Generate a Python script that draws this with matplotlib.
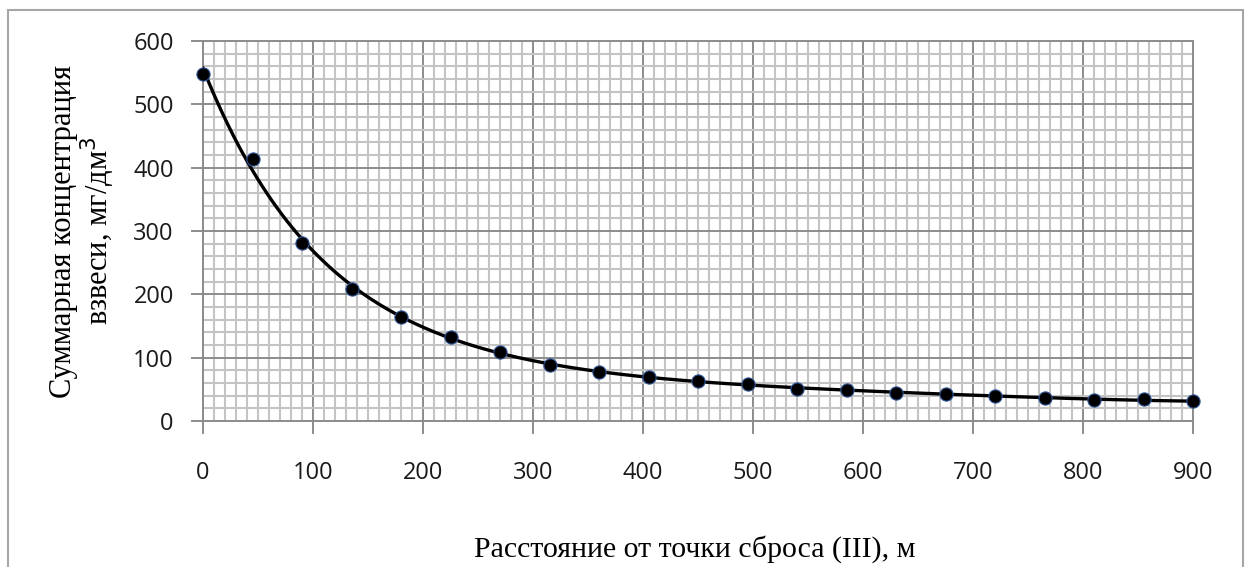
import numpy as np
import matplotlib.pyplot as plt
from matplotlib.patches import Rectangle
from matplotlib.ticker import MultipleLocator

# distance from discharge point, m
distance = [0, 45, 90, 135, 180, 225, 270, 315, 360, 405, 450,
            495, 540, 585, 630, 675, 720, 765, 810, 855, 900]
# total suspended matter concentration, mg/dm3
concentration = [548, 414, 281, 209, 165, 133, 109, 89, 77, 69, 63,
                 58, 51, 49, 45, 43, 40, 37, 33, 34, 31]

x_ticks = [0, 100, 200, 300, 400, 500, 600, 700, 800, 900]
y_ticks = [0, 100, 200, 300, 400, 500, 600]

fig = plt.figure(figsize=(12.45, 5.67), dpi=100)
ax = fig.add_axes([203 / 1245, 1 - 421 / 567, 990 / 1245, 380 / 567])

# outer chart frame
fig.patches.append(Rectangle((8 / 1245, -0.05), 1235 / 1245, 1 - 10 / 567 + 0.05,
                             transform=fig.transFigure, fill=False,
                             edgecolor='#a6a6a6', linewidth=1.5))

# smooth trend line (polynomial fit in log space)
xs = np.array(distance, dtype=float)
ys = np.array(concentration, dtype=float)
coef = np.polyfit(xs / 900, np.log(ys), 5)
xf = np.linspace(0, 900, 400)
ax.plot(xf, np.exp(np.polyval(coef, xf / 900)), color='black', lw=2.4, zorder=3)
ax.plot(distance, concentration, 'o', color='black', markeredgecolor='#2f5597',
        markeredgewidth=0.8, markersize=9.5, zorder=4, clip_on=False)

ax.set_xlim(0, 900)
ax.set_ylim(0, 600)
ax.set_xticks(x_ticks)
ax.set_yticks(y_ticks)
ax.xaxis.set_minor_locator(MultipleLocator(10))
ax.yaxis.set_minor_locator(MultipleLocator(20))
ax.grid(which='major', color='#8c8c8c', lw=1.4)
ax.grid(which='minor', color='#c4c4c4', lw=1.5)
ax.set_axisbelow(True)
for s in ax.spines.values():
    s.set_color('#8c8c8c')
    s.set_linewidth(1.4)
ax.tick_params(which='major', length=9, width=1.4, color='#8c8c8c', labelsize=17)
ax.tick_params(axis='y', pad=12)
ax.tick_params(axis='x', pad=20)
ax.tick_params(which='minor', length=0)
for lab in ax.get_xticklabels() + ax.get_yticklabels():
    lab.set_fontfamily('Open Sans')
    lab.set_color('#1a1a1a')

ax.set_xlabel('Расстояние от точки сброса (III), м', fontfamily='Liberation Serif',
              fontsize=21.5)
ax.set_ylabel('Суммарная концентрация\nвзвеси, мг/дм$^3$', fontfamily='Liberation Serif',
              fontsize=22, linespacing=1.0)
ax.xaxis.set_label_coords(0.497, -0.30)
ax.yaxis.set_label_coords(-0.087, 0.5)

fig.savefig('out.png', dpi=100)
